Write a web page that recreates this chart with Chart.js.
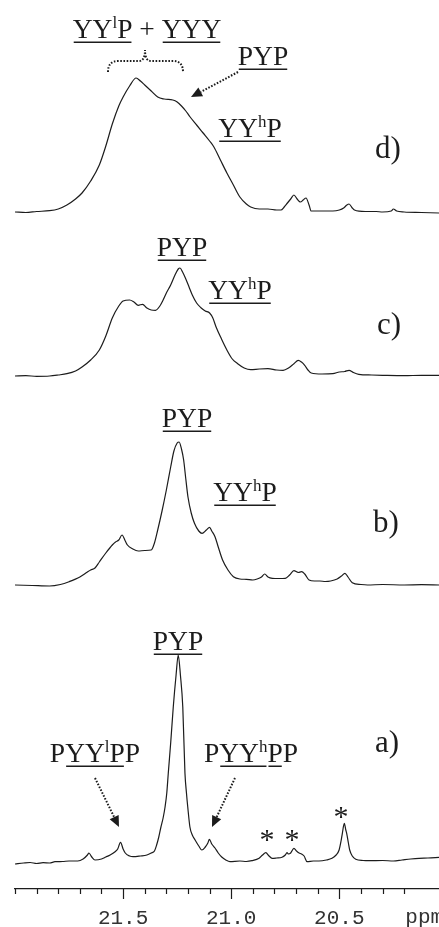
<!DOCTYPE html>
<html>
<head>
<meta charset="utf-8">
<script src="https://cdn.jsdelivr.net/npm/chart.js@4"></script>
<style>
html, body { margin: 0; padding: 0; background: #fff; }
canvas { display: block; }
</style>
</head>
<body>
<canvas id="spec" width="439" height="927"></canvas>
<script>
const traceA = [
  [22.00, -1], [21.96, 0], [21.93, 0.5], [21.90, -0.5], [21.87, 0.3], [21.84, 0], [21.815, 1.3], [21.78, 1.5],
  [21.75, 2], [21.71, 2], [21.685, 4], [21.665, 8], [21.658, 10], [21.645, 6], [21.63, 3], [21.60, 4],
  [21.58, 6], [21.56, 8], [21.537, 11.3], [21.525, 14], [21.512, 20.7], [21.50, 14], [21.49, 10], [21.47, 7],
  [21.454, 6.3], [21.42, 7], [21.39, 8], [21.37, 10], [21.355, 12], [21.345, 18], [21.335, 26], [21.325, 36],
  [21.315, 45], [21.306, 56], [21.298, 70], [21.291, 90], [21.28, 120], [21.268, 156], [21.255, 188], [21.245, 208],
  [21.235, 188], [21.224, 156], [21.214, 90], [21.207, 70], [21.201, 56], [21.191, 36], [21.18, 28], [21.167, 23],
  [21.15, 17], [21.136, 13], [21.12, 16], [21.108, 20], [21.101, 23.7], [21.09, 19], [21.075, 15], [21.06, 10],
  [21.044, 6], [21.025, 3], [21.006, 1.3], [20.96, 2], [20.93, 1.5], [20.904, 2.3], [20.871, 4.7], [20.855, 8],
  [20.84, 10.3], [20.825, 7], [20.811, 4.7], [20.79, 5], [20.765, 5.7], [20.75, 8], [20.742, 10.3], [20.735, 9],
  [20.725, 10], [20.71, 14.7], [20.698, 12], [20.686, 10], [20.675, 9], [20.663, 7], [20.649, 1.3], [20.62, 2],
  [20.594, 2], [20.56, 3], [20.534, 4.7], [20.515, 8], [20.501, 13], [20.492, 22], [20.486, 29.7], [20.477, 39.7],
  [20.47, 33], [20.466, 29.7], [20.458, 20], [20.452, 13], [20.44, 7], [20.424, 3.7], [20.39, 2.5], [20.363, 2.3],
  [20.30, 2.5], [20.25, 2], [20.21, 3], [20.17, 4], [20.131, 4.7], [20.09, 5], [20.039, 5.7]
];
const traceB = [
  [22.00, 0], [21.92, -0.5], [21.84, -1], [21.79, 0.5], [21.75, 3.3], [21.70, 8], [21.665, 13], [21.65, 15],
  [21.63, 17], [21.61, 23], [21.58, 32], [21.55, 40], [21.535, 43], [21.52, 45], [21.505, 50], [21.49, 44],
  [21.48, 40], [21.455, 36], [21.43, 34], [21.40, 34.5], [21.37, 35], [21.355, 42], [21.34, 55], [21.32, 74],
  [21.30, 95], [21.28, 118], [21.265, 134], [21.25, 142], [21.241, 143], [21.23, 136], [21.22, 125], [21.21, 106],
  [21.20, 88], [21.185, 72], [21.17, 61.7], [21.15, 54], [21.135, 51.7], [21.115, 55], [21.10, 57.7], [21.09, 54],
  [21.075, 48.3], [21.06, 38], [21.04, 25], [21.015, 15], [20.99, 8.3], [20.96, 6], [20.93, 5.7], [20.90, 5],
  [20.88, 6], [20.86, 8], [20.845, 11], [20.83, 8], [20.81, 6.7], [20.78, 6.5], [20.75, 6.7], [20.73, 10],
  [20.71, 14.3], [20.69, 12.5], [20.675, 13.3], [20.66, 11], [20.64, 5], [20.615, 4], [20.59, 4], [20.565, 3.5],
  [20.54, 4], [20.51, 6], [20.49, 9], [20.474, 11.7], [20.46, 8], [20.44, 2.3], [20.40, 0.5], [20.37, 0],
  [20.30, 0.5], [20.20, 0], [20.12, 0.3], [20.039, 0]
];
const traceC = [
  [22.00, 0], [21.95, 0.3], [21.90, -0.3], [21.84, 0], [21.80, 1], [21.76, 2.3], [21.72, 5], [21.69, 9],
  [21.65, 16], [21.61, 26], [21.58, 40], [21.55, 58], [21.52, 70], [21.50, 75], [21.47, 76], [21.45, 74],
  [21.43, 70.7], [21.41, 71.7], [21.39, 68], [21.37, 66], [21.35, 65.7], [21.33, 70], [21.315, 76], [21.30, 83],
  [21.28, 91], [21.26, 101], [21.245, 107], [21.237, 108], [21.225, 104], [21.21, 97], [21.195, 89], [21.18, 81],
  [21.16, 73], [21.14, 68.3], [21.12, 65], [21.10, 63], [21.085, 58], [21.07, 49], [21.045, 37], [21.02, 26],
  [20.995, 17], [20.97, 12.3], [20.94, 8], [20.91, 6.3], [20.87, 7], [20.83, 7.3], [20.79, 6], [20.76, 5.7],
  [20.735, 8], [20.71, 12.3], [20.69, 15.7], [20.675, 14], [20.66, 10.7], [20.645, 6], [20.63, 3], [20.58, 2],
  [20.53, 2.3], [20.50, 4], [20.475, 4.5], [20.455, 5.7], [20.435, 3.5], [20.41, 1.7], [20.35, 1], [20.30, 0.7],
  [20.20, 0.3], [20.12, 0.7], [20.039, 0.7]
];
const traceD = [
  [22.00, 0], [21.95, -0.5], [21.90, 0.5], [21.84, 1.3], [21.80, 3], [21.76, 7], [21.72, 13], [21.69, 19],
  [21.65, 31], [21.61, 47], [21.58, 66], [21.55, 88], [21.52, 106], [21.50, 115], [21.47, 126], [21.44, 134],
  [21.42, 131], [21.40, 127], [21.37, 121], [21.34, 115], [21.31, 113], [21.27, 112], [21.25, 110], [21.23, 106],
  [21.21, 101], [21.19, 95], [21.16, 87], [21.13, 79], [21.10, 71], [21.08, 65], [21.05, 52], [21.02, 39],
  [20.99, 27], [20.96, 15], [20.93, 8], [20.91, 5], [20.87, 3], [20.83, 3], [20.79, 2], [20.77, 2],
  [20.755, 5], [20.74, 9], [20.725, 13], [20.71, 17], [20.695, 13], [20.68, 10], [20.667, 12], [20.654, 14],
  [20.64, 7], [20.63, 1], [20.58, 1], [20.53, 1], [20.50, 2], [20.48, 4], [20.465, 7], [20.455, 8],
  [20.44, 4], [20.43, 2], [20.38, 0.5], [20.33, 0.5], [20.30, 0], [20.26, 1], [20.25, 3], [20.235, 1],
  [20.20, 0], [20.12, -0.5], [20.039, -1]
];
const tickLabels = [21.5, 21.0, 20.5];
const ppmRange = [20.039, 22.0];

// vertical position of each trace's baseline (in y-axis units, 1 unit = 1 px)
const traceOffsets = { a: 26, b: 304, c: 513, d: 677 };
const INK = '#1c1c1c';
const SERIF = '"Liberation Serif", "Times New Roman", serif';
const MONO = '"Liberation Mono", "Courier New", monospace';
const LBL = 27.5;

function toPoints(trace, off) {
  return trace.map(p => ({ x: p[0], y: p[1] + off }));
}

function line(data) {
  return {
    data: data,
    borderColor: INK,
    borderWidth: 1.2,
    pointRadius: 0,
    fill: false,
    cubicInterpolationMode: 'monotone'
  };
}

// draw a label made of pieces: {t, s: superscript, u: underline group}
function richText(ctx, parts, cx, base, size, align) {
  const supSize = Math.round(size * 0.62);
  const widths = parts.map(p => {
    ctx.font = (p.s ? supSize : size) + 'px ' + SERIF;
    return ctx.measureText(p.t).width;
  });
  const total = widths.reduce((a, b) => a + b, 0);
  let x = align === 'left' ? cx : cx - total / 2;
  const runs = [];
  parts.forEach((p, i) => {
    ctx.font = (p.s ? supSize : size) + 'px ' + SERIF;
    ctx.fillText(p.t, x, p.s ? base - size * 0.36 : base);
    if (p.u) {
      const last = runs[runs.length - 1];
      if (last && last.g === p.u && Math.abs(last.x1 - x) < 0.5) last.x1 = x + widths[i];
      else runs.push({ g: p.u, x0: x, x1: x + widths[i] });
    }
    x += widths[i];
  });
  runs.forEach(r => ctx.fillRect(r.x0 + 1, base + 3.5, r.x1 - r.x0 - 2, 1.5));
}

function dottedArrow(ctx, x0, y0, x1, y1) {
  const ang = Math.atan2(y1 - y0, x1 - x0);
  const hl = 11, hw = 5;
  const bx = x1 - Math.cos(ang) * hl, by = y1 - Math.sin(ang) * hl;
  ctx.setLineDash([1.6, 1.6]);
  ctx.lineWidth = 2;
  ctx.beginPath(); ctx.moveTo(x0, y0); ctx.lineTo(bx, by); ctx.stroke();
  ctx.setLineDash([]);
  ctx.beginPath();
  ctx.moveTo(x1, y1);
  ctx.lineTo(bx + Math.sin(ang) * hw, by - Math.cos(ang) * hw);
  ctx.lineTo(bx - Math.sin(ang) * hw, by + Math.cos(ang) * hw);
  ctx.closePath(); ctx.fill();
}

const PYP = [{ t: 'PYP', u: 1 }];
const YYhP = [{ t: 'YY', u: 1 }, { t: 'h', s: 1, u: 1 }, { t: 'P', u: 1 }];

const decor = {
  id: 'decor',
  afterDraw(chart) {
    const ctx = chart.ctx, xs = chart.scales.x, area = chart.chartArea;
    ctx.save();
    // tick marks every 0.1 ppm, long ones where labelled
    ctx.strokeStyle = INK; ctx.lineWidth = 1.2;
    xs.ticks.forEach(t => {
      if (Math.abs(t.value * 10 - Math.round(t.value * 10)) > 1e-6) return;
      const major = tickLabels.some(v => Math.abs(v - t.value) < 1e-6);
      const px = Math.round(xs.getPixelForValue(t.value)) + 0.5;
      ctx.beginPath(); ctx.moveTo(px, area.bottom); ctx.lineTo(px, area.bottom + (major ? 10 : 5)); ctx.stroke();
    });
    ctx.fillStyle = '#333';
    ctx.font = '21px ' + MONO;
    ctx.textBaseline = 'middle'; ctx.textAlign = 'left';
    ctx.fillText('ppm', xs.getPixelForValue(tickLabels[2]) + 66, area.bottom + 28);

    // annotations
    ctx.fillStyle = INK; ctx.strokeStyle = INK;
    ctx.textBaseline = 'alphabetic'; ctx.textAlign = 'left';
    richText(ctx, [{ t: 'YY', u: 1 }, { t: 'l', s: 1, u: 1 }, { t: 'P', u: 1 }, { t: ' + ' }, { t: 'YYY', u: 2 }], 147, 38, LBL);
    richText(ctx, PYP, 263, 65, LBL);
    richText(ctx, YYhP, 250, 137, LBL);
    richText(ctx, [{ t: 'd)' }], 375, 158, 31, 'left');

    richText(ctx, PYP, 182, 256, LBL);
    richText(ctx, YYhP, 240, 299, LBL);
    richText(ctx, [{ t: 'c)' }], 377, 334, 31, 'left');

    richText(ctx, PYP, 187, 427, LBL);
    richText(ctx, YYhP, 245, 501, LBL);
    richText(ctx, [{ t: 'b)' }], 373, 532, 31, 'left');

    richText(ctx, PYP, 178, 650, LBL);
    richText(ctx, [{ t: 'P' }, { t: 'YY', u: 1 }, { t: 'l', s: 1, u: 1 }, { t: 'P', u: 1 }, { t: 'P' }], 95, 762, LBL);
    richText(ctx, [{ t: 'P' }, { t: 'YY', u: 1 }, { t: 'h', s: 1, u: 1 }, { t: 'P', u: 2 }, { t: 'P' }], 251, 762, LBL);
    richText(ctx, [{ t: 'a)' }], 375, 752, 31, 'left');

    // asterisks on the impurity peaks
    ctx.font = '30px ' + SERIF; ctx.textAlign = 'center';
    ctx.fillText('*', 267, 849);
    ctx.fillText('*', 292, 849);
    ctx.fillText('*', 341, 826);

    // arrows
    dottedArrow(ctx, 95, 778, 119, 827);
    dottedArrow(ctx, 235, 778, 212, 827);
    dottedArrow(ctx, 238, 72, 191, 97);

    // dotted brace
    ctx.setLineDash([1.6, 1.6]); ctx.lineWidth = 2;
    ctx.beginPath();
    ctx.moveTo(108, 72);
    ctx.quadraticCurveTo(108, 61, 118, 61);
    ctx.lineTo(139, 61);
    ctx.quadraticCurveTo(145, 61, 145, 50);
    ctx.quadraticCurveTo(145, 61, 151, 61);
    ctx.lineTo(173, 61);
    ctx.quadraticCurveTo(183, 61, 183, 72);
    ctx.stroke();
    ctx.restore();
  }
};

new Chart(document.getElementById('spec'), {
  type: 'line',
  data: {
    datasets: [
      line(toPoints(traceA, traceOffsets.a)),
      line(toPoints(traceB, traceOffsets.b)),
      line(toPoints(traceC, traceOffsets.c)),
      line(toPoints(traceD, traceOffsets.d))
    ]
  },
  options: {
    responsive: false,
    animation: false,
    events: [],
    layout: { padding: { left: 15, right: 0, top: 0, bottom: 0 } },
    plugins: { legend: { display: false }, tooltip: { enabled: false } },
    scales: {
      x: {
        type: 'linear',
        reverse: true,
        min: ppmRange[0],
        max: ppmRange[1],
        grid: { display: false },
        border: { display: true, color: INK, width: 1.2 },
        ticks: {
          stepSize: 0.1,
          autoSkip: false,
          maxRotation: 0,
          padding: 9,
          color: '#333',
          font: { family: MONO, size: 21 },
          callback: v => tickLabels.some(t => Math.abs(t - v) < 1e-6) ? v.toFixed(1) : ''
        },
        afterFit: s => { s.height = 38; s.paddingLeft = 0; s.paddingRight = 0; }
      },
      y: { display: false, min: 0, max: 889 }
    }
  },
  plugins: [decor]
});
</script>
</body>
</html>
